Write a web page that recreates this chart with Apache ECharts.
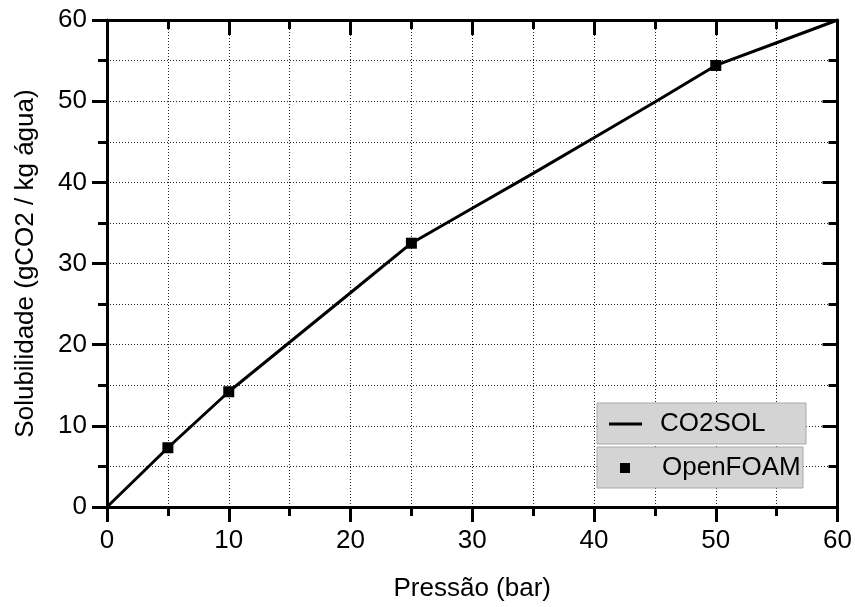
<!DOCTYPE html>
<html><head><meta charset="utf-8">
<script src="https://cdn.jsdelivr.net/npm/echarts@6/dist/echarts.min.js"></script>
<style>html,body{margin:0;padding:0;background:#fff}#c{width:855px;height:607px}</style>
</head><body><div id="c"></div>
<script>
const pressureCurve = [0, 5, 10, 15, 20, 25, 30, 35, 40, 45, 50, 55, 60];
const solubilityCurve = [0, 7.3, 14.2, 20.3, 26.4, 32.5, 36.8, 41.1, 45.5, 49.9, 54.4, 57.2, 60];
const pressureSim = [5, 10, 25, 50];
const solubilitySim = [7.3, 14.2, 32.5, 54.4];
const seriesNames = ['CO2SOL', 'OpenFOAM'];
const xTitle = 'Pressão (bar)';
const yTitle = 'Solubilidade (gCO2 / kg água)';

const FONT = "'Liberation Sans', Arial, sans-serif";
const gridLine = { show: true, lineStyle: { color: '#222', width: 1, type: [1, 2] } };
const axisLine = { show: true, onZero: false, lineStyle: { color: '#000', width: 3 } };

function mkAxis(pos, primary) {
  const inside = !primary;
  return {
    type: 'value', position: pos, min: 0, max: 60, interval: 10,
    axisLine: axisLine,
    axisTick: { show: true, inside: inside, length: 15, lineStyle: { color: '#000', width: 3 } },
    minorTick: { show: true, splitNumber: 2, length: 9, lineStyle: { color: '#000', width: 3 } },
    axisLabel: { show: primary, color: '#000', fontSize: 26, fontFamily: FONT, margin: primary ? 20 : 8 },
    splitLine: primary ? gridLine : { show: false },
    minorSplitLine: primary ? gridLine : { show: false }
  };
}

const xBottom = mkAxis('bottom', true);
xBottom.name = xTitle; xBottom.nameLocation = 'middle'; xBottom.nameGap = 69;
xBottom.nameTextStyle = { color: '#000', fontSize: 26, fontFamily: FONT };
xBottom.axisLabel.margin = 21;
const yLeft = mkAxis('left', true);
yLeft.name = yTitle; yLeft.nameLocation = 'middle'; yLeft.nameGap = 68;
yLeft.nameTextStyle = { color: '#000', fontSize: 26, fontFamily: FONT };
const xTop = mkAxis('top', false);
const yRight = mkAxis('right', false);

const chart = echarts.init(document.getElementById('c'), null, { renderer: 'canvas' });
chart.setOption({
  backgroundColor: '#fff',
  animation: false,
  grid: { left: 107, right: 14, top: 20, bottom: 98, containLabel: false },
  xAxis: [xBottom, xTop],
  yAxis: [yLeft, yRight],
  legend: [
    {
      data: [{ name: seriesNames[0], icon: 'rect' }], left: 597, top: 403, orient: 'vertical',
      selectedMode: false, backgroundColor: '#d4d4d4', borderColor: '#a9a9a9', borderWidth: 1,
      padding: [8, 0, 7, 12], itemWidth: 33, itemHeight: 3,
      itemStyle: { color: '#000', opacity: 1 },
      textStyle: { color: '#000', fontSize: 26, fontFamily: FONT, lineHeight: 26, width: 146, padding: [0, 0, 0, 13] }
    },
    {
      data: [{ name: seriesNames[1], icon: 'rect' }], left: 597, top: 447, orient: 'vertical',
      selectedMode: false, backgroundColor: '#d4d4d4', borderColor: '#a9a9a9', borderWidth: 1,
      padding: [8, 0, 7, 23], itemWidth: 10, itemHeight: 10,
      itemStyle: { color: '#000', opacity: 1 },
      textStyle: { color: '#000', fontSize: 26, fontFamily: FONT, lineHeight: 26, width: 141, padding: [0, 0, 0, 27] }
    }
  ],
  series: [
    {
      name: seriesNames[0], type: 'line', symbol: 'none', smooth: false,
      data: pressureCurve.map((p, i) => [p, solubilityCurve[i]]),
      lineStyle: { color: '#000', width: 3 }, itemStyle: { color: '#000' }, z: 3
    },
    {
      name: seriesNames[1], type: 'scatter', symbol: 'rect', symbolSize: 11,
      data: pressureSim.map((p, i) => [p, solubilitySim[i]]),
      itemStyle: { color: '#000', opacity: 1 }, z: 4
    }
  ]
});
</script></body></html>
